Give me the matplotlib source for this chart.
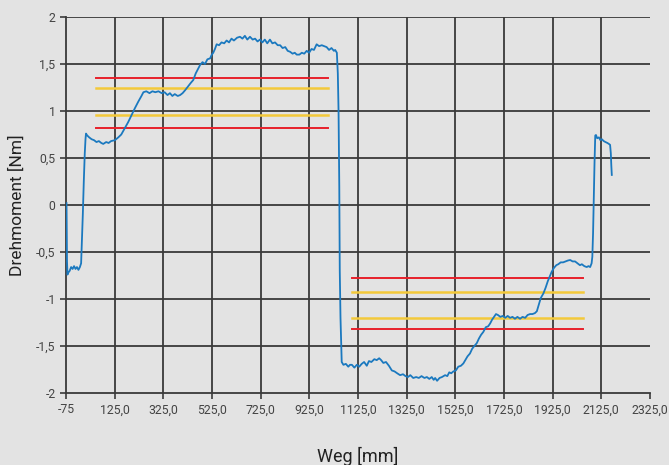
import matplotlib
matplotlib.use('Agg')
import matplotlib.pyplot as plt
from matplotlib import font_manager

weg = [
    -73, -72, -71, -69, -66, -60, -54, -48, -42, -36, -30, -24, -18, -13, -10, -6, -2, 2, 5, 7,
    12, 20, 30, 40, 50, 60, 70, 78, 90, 100, 110, 126, 140, 152, 167, 180, 195, 208, 222, 235, 243,
    255, 268, 280, 292, 305, 318, 330, 342, 352, 362, 372, 384, 394, 404, 414, 426, 438, 448, 458, 468, 476,
    486, 496, 506, 517, 524, 530, 537, 544, 554, 564, 575, 585, 595, 605, 615, 628, 640, 650, 660, 670,
    681, 692, 702, 712, 722, 732, 742, 752, 763, 773, 784, 795, 805, 815, 826, 836, 846, 856, 865, 873,
    884, 894, 904, 914, 924, 934, 944, 955, 965, 976, 986, 996, 1006, 1016, 1026, 1031,
    1038, 1042, 1045, 1048, 1050, 1053, 1056, 1058,
    1065, 1075, 1085, 1092, 1100, 1110, 1120, 1130, 1140, 1150, 1161, 1170, 1180, 1192, 1202, 1212, 1220, 1229, 1240, 1252,
    1264, 1275, 1286, 1298, 1310, 1320, 1330, 1340, 1352, 1364, 1375, 1386, 1398, 1408, 1418, 1428, 1436, 1442, 1450, 1460,
    1470, 1483, 1492, 1500, 1508, 1517, 1527, 1537, 1548, 1558, 1566, 1575, 1585, 1594, 1603, 1613, 1622, 1631, 1640, 1650,
    1660, 1668, 1676, 1684, 1692, 1700, 1710, 1720, 1730, 1740, 1750, 1760, 1770, 1780, 1791, 1801, 1812, 1822, 1832, 1842,
    1852, 1860, 1868, 1876, 1887, 1896, 1905, 1913, 1921, 1930, 1940, 1948, 1958, 1968, 1978, 1988, 1997, 2007, 2017, 2027,
    2037, 2045, 2055, 2065, 2072, 2079, 2085, 2088, 2091, 2094, 2097, 2100, 2103,
    2108, 2115, 2121, 2127, 2135, 2142, 2150, 2156, 2161, 2164, 2166, 2168,
]
moment = [
    0.02, -0.30, -0.60, -0.74, -0.72, -0.70, -0.66, -0.68, -0.65, -0.68, -0.66, -0.69, -0.66, -0.62, -0.40, -0.10, 0.25, 0.55, 0.70, 0.76,
    0.74, 0.72, 0.70, 0.69, 0.67, 0.68, 0.66, 0.65, 0.67, 0.66, 0.68, 0.69, 0.72, 0.75, 0.82, 0.88, 0.96, 1.03, 1.10, 1.16, 1.20,
    1.21, 1.19, 1.21, 1.20, 1.21, 1.19, 1.20, 1.17, 1.19, 1.16, 1.18, 1.16, 1.17, 1.19, 1.22, 1.26, 1.30, 1.33, 1.40, 1.45, 1.49,
    1.52, 1.50, 1.55, 1.56, 1.60, 1.62, 1.66, 1.71, 1.70, 1.73, 1.72, 1.75, 1.73, 1.77, 1.75, 1.78, 1.79, 1.77, 1.80, 1.76,
    1.79, 1.76, 1.77, 1.74, 1.76, 1.73, 1.76, 1.72, 1.76, 1.72, 1.73, 1.70, 1.70, 1.67, 1.68, 1.64, 1.63, 1.61, 1.62, 1.60,
    1.60, 1.62, 1.61, 1.64, 1.62, 1.66, 1.65, 1.71, 1.69, 1.70, 1.69, 1.68, 1.65, 1.67, 1.64, 1.65,
    1.62, 1.40, 1.00, 0.20, -0.70, -1.20, -1.50, -1.67,
    -1.70, -1.69, -1.72, -1.70, -1.70, -1.73, -1.70, -1.72, -1.69, -1.67, -1.71, -1.66, -1.67, -1.64, -1.65, -1.63, -1.65, -1.68, -1.67, -1.71,
    -1.76, -1.77, -1.79, -1.81, -1.80, -1.82, -1.83, -1.81, -1.84, -1.83, -1.84, -1.82, -1.84, -1.83, -1.85, -1.83, -1.86, -1.84, -1.87, -1.84,
    -1.83, -1.81, -1.82, -1.78, -1.79, -1.77, -1.76, -1.72, -1.71, -1.685, -1.65, -1.61, -1.58, -1.53, -1.50, -1.47, -1.42, -1.38, -1.35, -1.30,
    -1.29, -1.26, -1.22, -1.19, -1.16, -1.17, -1.19, -1.18, -1.20, -1.18, -1.20, -1.19, -1.21, -1.19, -1.21, -1.19, -1.20, -1.17, -1.16, -1.16,
    -1.15, -1.13, -1.06, -0.99, -0.94, -0.88, -0.81, -0.76, -0.71, -0.67, -0.64, -0.63, -0.61, -0.61, -0.60, -0.59, -0.585, -0.60, -0.60, -0.62,
    -0.64, -0.63, -0.65, -0.66, -0.65, -0.66, -0.62, -0.55, -0.30, 0.10, 0.45, 0.74, 0.745,
    0.71, 0.72, 0.69, 0.70, 0.68, 0.67, 0.66, 0.65, 0.64, 0.55, 0.42, 0.32,
]

# tolerance bands
upper_x = [50, 1000]
upper_red = [1.35, 0.82]
upper_yellow = [1.24, 0.96]
lower_x = [1100, 2050]
lower_red = [-0.78, -1.32]
lower_yellow = [-0.93, -1.20]

x_ticks = [-75, 125, 325, 525, 725, 925, 1125, 1325, 1525, 1725, 1925, 2125, 2325]
x_labels = ['-75'] + [f'{t},0' for t in x_ticks[1:]]
y_ticks = [-2, -1.5, -1, -0.5, 0, 0.5, 1, 1.5, 2]
y_labels = ['-2', '-1,5', '-1', '-0,5', '0', '0,5', '1', '1,5', '2']

names = {f.name for f in font_manager.fontManager.ttflist}
narrow = 'Liberation Sans Narrow' if 'Liberation Sans Narrow' in names else 'Roboto'
plt.rcParams['font.family'] = [narrow, 'DejaVu Sans']

bg = '#e3e3e3'
fig = plt.figure(figsize=(6.69, 4.65), dpi=100, facecolor=bg)
ax = fig.add_axes([0.0987, 0.1548, 0.8729, 0.8086], facecolor=bg)

grid_c = '#3a3a3a'
for t in x_ticks[1:-1]:
    ax.axvline(t, color=grid_c, lw=1.3, zorder=1)
for t in y_ticks[1:]:
    ax.axhline(t, color=grid_c, lw=1.3, zorder=1)

for lv in upper_red:
    ax.plot(upper_x, [lv, lv], color='#e8202a', lw=1.4, zorder=2)
for lv in upper_yellow:
    ax.plot(upper_x, [lv, lv], color='#f3c93a', lw=1.8, zorder=2)
for lv in lower_red:
    ax.plot(lower_x, [lv, lv], color='#e8202a', lw=1.4, zorder=2)
for lv in lower_yellow:
    ax.plot(lower_x, [lv, lv], color='#f3c93a', lw=1.8, zorder=2)

ax.plot(weg, moment, color='#1b79bf', lw=1.3, zorder=3)

ax.set_xlim(-75, 2325)
ax.set_ylim(-2, 2)
ax.set_xticks(x_ticks)
ax.set_xticklabels(x_labels)
ax.set_yticks(y_ticks)
ax.set_yticklabels(y_labels)
ax.tick_params(axis='both', colors=grid_c, labelcolor='#444444', labelsize=8.8,
               length=4, width=1.2)
for side in ['top', 'right']:
    ax.spines[side].set_visible(False)
for side in ['left', 'bottom']:
    ax.spines[side].set_color(grid_c)
    ax.spines[side].set_linewidth(1.3)

ax.set_xlabel('Weg [mm]', fontsize=13, color='#222222', labelpad=22)
ax.set_ylabel('Drehmoment [Nm]', fontsize=12.5, color='#222222', labelpad=8)

fig.savefig('out.png', dpi=100, facecolor=bg)
